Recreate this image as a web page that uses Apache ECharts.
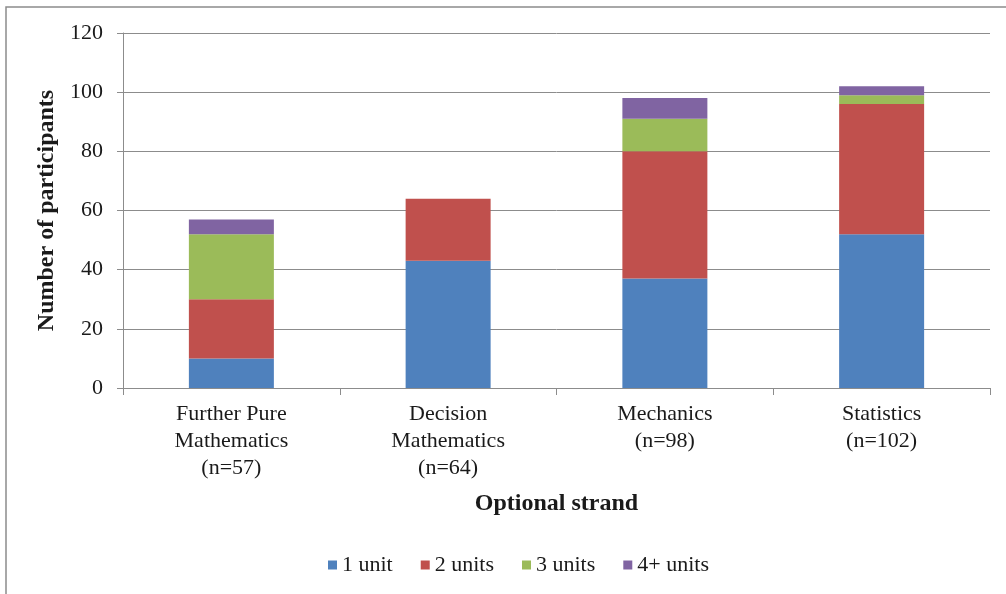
<!DOCTYPE html>
<html>
<head>
<meta charset="utf-8">
<script src="https://cdn.jsdelivr.net/npm/echarts@6/dist/echarts.min.js"></script>
<style>
  html, body { margin: 0; padding: 0; background: #ffffff; }
  #chart { width: 1006px; height: 594px; }
</style>
</head>
<body>
<div id="chart"></div>
<script>
// Optional strands and number of units taken by participants
const strands = ['Further Pure\nMathematics\n(n=57)', 'Decision\nMathematics\n(n=64)', 'Mechanics\n(n=98)', 'Statistics\n(n=102)'];
const oneUnit   = [10, 43, 37, 52];
const twoUnits  = [20, 21, 43, 44];
const threeUnits = [22, 0, 11, 3];
const fourPlusUnits = [5, 0, 7, 3];
const seriesNames = ['1 unit', '2 units', '3 units', '4+ units'];
const yTicks = [0, 20, 40, 60, 80, 100, 120];

const serif = 'Liberation Serif, Times New Roman, serif';
const colors = ['#4F81BD', '#C0504D', '#9BBB59', '#8064A2'];
const seriesData = [oneUnit, twoUnits, threeUnits, fourPlusUnits];

const chart = echarts.init(document.getElementById('chart'), null, { renderer: 'canvas' });

chart.setOption({
  animation: false,
  backgroundColor: '#ffffff',
  color: colors,
  textStyle: { fontFamily: serif },
  graphic: [{
    type: 'rect',
    shape: { x: 6, y: 7, width: 1020, height: 620 },
    style: { fill: 'none', stroke: '#8c8c8c', lineWidth: 1.5 },
    silent: true,
    z: -1
  }],
  grid: { left: 123, right: 16, top: 33, bottom: 206 },
  legend: {
    data: seriesNames,
    left: 323,
    top: 549,
    itemWidth: 9,
    itemHeight: 9,
    itemGap: 28,
    icon: 'rect',
    textStyle: { fontFamily: serif, fontSize: 22, color: '#1a1a1a' }
  },
  xAxis: {
    type: 'category',
    data: strands,
    name: 'Optional strand',
    nameLocation: 'middle',
    nameGap: 104,
    nameTextStyle: { fontFamily: serif, fontSize: 24, fontWeight: 'bold', color: '#1a1a1a' },
    axisLine: { lineStyle: { color: '#8c8c8c', width: 1 } },
    axisTick: { show: true, length: 7, lineStyle: { color: '#8c8c8c' } },
    axisLabel: { fontFamily: serif, fontSize: 22, color: '#1a1a1a', lineHeight: 27, margin: 13 }
  },
  yAxis: {
    type: 'value',
    min: yTicks[0],
    max: yTicks[yTicks.length - 1],
    interval: 20,
    name: 'Number of participants',
    nameLocation: 'middle',
    nameGap: 55,
    nameTextStyle: { fontFamily: serif, fontSize: 24, fontWeight: 'bold', color: '#1a1a1a' },
    axisLine: { show: true, lineStyle: { color: '#8c8c8c', width: 1 } },
    axisTick: { show: true, length: 6, lineStyle: { color: '#8c8c8c' } },
    axisLabel: { fontFamily: serif, fontSize: 22, color: '#1a1a1a', margin: 20 },
    splitLine: { lineStyle: { color: '#8c8c8c', width: 1 } }
  },
  series: seriesNames.map((name, i) => ({
    name: name,
    type: 'bar',
    stack: 'units',
    barWidth: 85,
    data: seriesData[i],
    itemStyle: { color: colors[i] }
  }))
});
</script>
</body>
</html>
